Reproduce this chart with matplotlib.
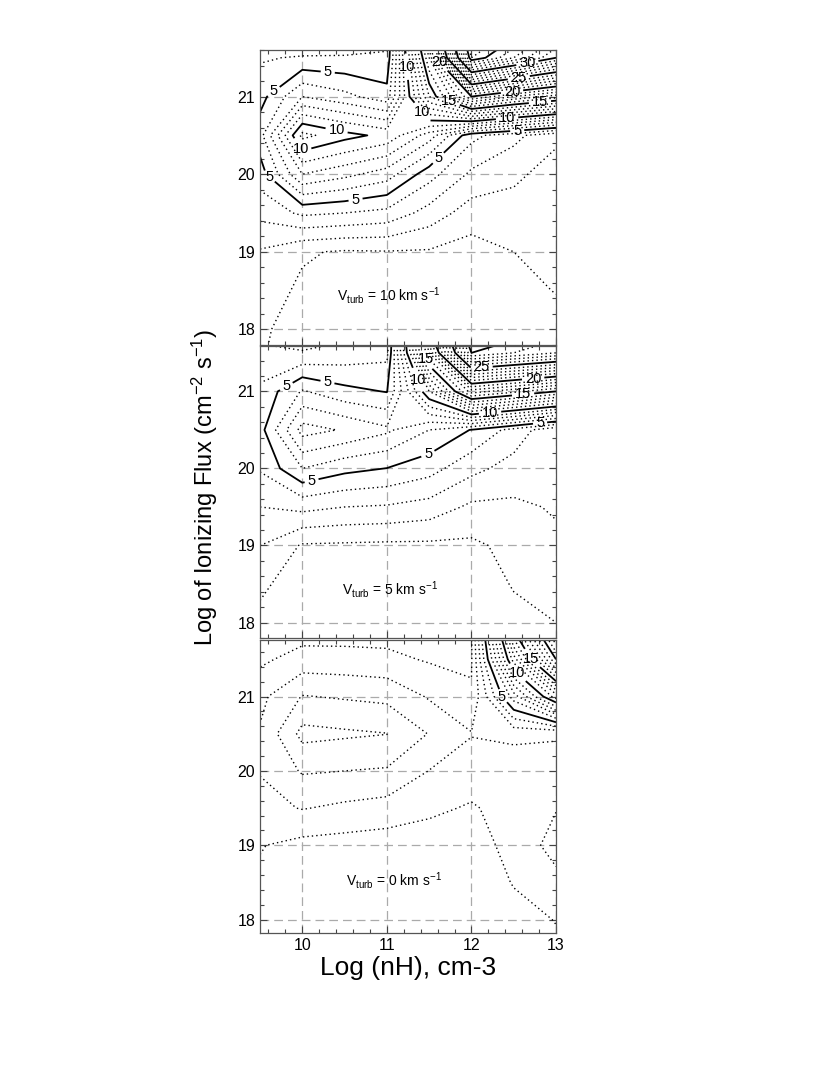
import matplotlib
matplotlib.use("Agg")
import matplotlib.pyplot as plt
import numpy as np
from matplotlib.ticker import MultipleLocator

plt.rcParams['font.family'] = ['Liberation Sans', 'DejaVu Sans']
plt.rcParams['mathtext.default'] = 'regular'

# grid of the model runs
lognh = [9.5, 10.0, 10.5, 11.0, 11.5, 12.0, 12.5, 13.0]
logflux = [17.5, 18.0, 18.5, 19.0, 19.5, 20.0, 20.5, 21.0, 21.5, 22.0]

# contour values, one row per log flux, one column per log nH
vturb10 = [
    [1.05, 0.4, 0.35, 0.35, 0.35, 0.35, 0.3, 0.4],
    [1.15, 0.6, 0.5, 0.5, 0.5, 0.5, 0.5, 0.7],
    [1.4, 0.85, 0.7, 0.7, 0.7, 0.65, 0.75, 1.03],
    [1.9, 1.1, 0.9, 0.95, 0.9, 0.6, 1.0, 1.2],
    [3.3, 4.2, 4.0, 3.7, 2.6, 1.5, 1.6, 1.4],
    [4.5, 8.0, 7.3, 6.5, 4.4, 2.8, 2.2, 1.6],
    [5.6, 11.3, 10.35, 9.7, 7.5, 4.3, 3.3, 2.2],
    [4.6, 7.0, 6.3, 5.4, 14.0, 20.0, 18.0, 16.5],
    [3.9, 4.1, 4.1, 4.2, 17.0, 36.0, 33.0, 30.0],
    [2.5, 2.0, 2.5, 3.0, 22.0, 40.0, 37.0, 34.0],
]
vturb5 = [
    [0.6, 0.35, 0.3, 0.3, 0.3, 0.3, 0.5, 0.8],
    [0.8, 0.45, 0.4, 0.4, 0.4, 0.4, 0.8, 1.0],
    [1.15, 0.6, 0.55, 0.55, 0.55, 0.6, 1.05, 1.4],
    [2.0, 0.9, 0.85, 0.8, 0.8, 0.8, 1.3, 1.8],
    [3.0, 3.3, 3.0, 2.9, 2.6, 1.8, 1.8, 2.1],
    [4.1, 6.0, 5.3, 4.98, 4.4, 3.3, 2.6, 2.2],
    [4.6, 8.4, 7.9, 7.2, 6.0, 4.95, 3.6, 2.2],
    [4.2, 6.1, 5.3, 4.95, 11.0, 17.5, 16.3, 15.0],
    [3.3, 3.1, 3.4, 3.7, 17.0, 30.0, 29.0, 28.0],
    [2.0, 1.5, 2.0, 2.5, 22.0, 34.0, 32.0, 31.0],
]
vturb0 = [
    [0.5, 0.3, 0.2, 0.2, 0.2, 0.3, 0.5, 0.8],
    [0.6, 0.4, 0.25, 0.2, 0.2, 0.3, 0.7, 1.03],
    [0.85, 0.55, 0.35, 0.3, 0.3, 0.4, 1.05, 1.7],
    [1.05, 0.7, 0.6, 0.5, 0.5, 0.6, 1.3, 2.4],
    [1.7, 2.05, 1.8, 1.6, 1.2, 0.9, 1.4, 1.95],
    [2.05, 3.1, 3.0, 2.9, 1.98, 1.5, 1.3, 1.6],
    [2.1, 4.3, 4.15, 4.02, 2.95, 2.05, 2.3, 2.1],
    [1.75, 3.05, 2.9, 2.75, 1.9, 1.1, 6.5, 11.5],
    [0.8, 1.4, 1.35, 1.25, 0.9, 0.9, 11.5, 20.0],
    [0.2, 0.3, 0.35, 0.4, 0.3, 0.9, 16.0, 25.0],
]

panels = [vturb10, vturb5, vturb0]
vturb_labels = ["10", "5", "0"]

# where the contour labels sit (data coords)
label_spots = [
    [(9.67, 21.05), (10.3, 21.3), (10.41, 20.6), (10.0, 20.34), (9.57, 19.9),
     (10.63, 19.67), (11.57, 20.27), (11.2, 21.38), (11.34, 20.7), (11.75, 21.0),
     (11.6, 21.42), (12.66, 21.44), (12.56, 21.24), (12.48, 21.06),
     (12.81, 20.93), (12.42, 20.74), (12.54, 20.58)],
    [(9.85, 20.96), (10.29, 21.06), (10.11, 19.84), (11.49, 20.17), (11.33, 21.13),
     (11.45, 21.42), (12.12, 21.31), (12.73, 21.16), (12.61, 20.97),
     (12.22, 20.72), (12.81, 20.61)],
    [(12.65, 21.42), (12.53, 21.3), (12.3, 20.96)],
]

axes_rect = [[0.3129, 0.6806, 0.3562, 0.2731],
             [0.3129, 0.4093, 0.3562, 0.2704],
             [0.3129, 0.1361, 0.3562, 0.2713]]
ylims = [(17.8, 21.6), (17.8, 21.59), (17.82, 21.76)]
text_pos = [(11.02, 18.44), (11.04, 18.43), (11.08, 18.53)]

X, Y = np.meshgrid(lognh, logflux)

fig = plt.figure(figsize=(8.31, 10.8), dpi=100)

for i, z in enumerate(panels):
    ax = fig.add_axes(axes_rect[i])
    Z = np.array(z)
    top = int(np.ceil(Z.max()))
    dot_levels = [l for l in range(1, top + 1) if l % 5 != 0]
    solid_levels = [l for l in range(5, top + 1, 5)]

    cs1 = ax.contour(X, Y, Z, levels=dot_levels, colors='black', linewidths=1.0)
    cs1.set_linestyle((0, (1.0, 2.2)))
    cs2 = ax.contour(X, Y, Z, levels=solid_levels, colors='black', linewidths=1.3,
                     linestyles='solid')
    txts = ax.clabel(cs2, manual=label_spots[i], fmt='%d', fontsize=10.5,
                     inline=True, inline_spacing=3)
    for t in txts:
        t.set_rotation(0)

    ax.set_xlim(9.5, 13)
    ax.set_ylim(*ylims[i])
    ax.xaxis.set_major_locator(MultipleLocator(1))
    ax.xaxis.set_minor_locator(MultipleLocator(0.2))
    ax.yaxis.set_major_locator(MultipleLocator(1))
    ax.yaxis.set_minor_locator(MultipleLocator(0.2))
    ax.grid(True, which='major', color='#aaaaaa', linestyle=(0, (7, 4)), linewidth=0.9)
    ax.set_axisbelow(True)
    ax.tick_params(which='both', direction='in', top=True, right=True,
                   width=0.8, color='#444444', labelsize=11.5)
    ax.tick_params(which='major', length=5)
    ax.tick_params(which='minor', length=3)
    for sp in ax.spines.values():
        sp.set_linewidth(0.9)
        sp.set_color('#555555')
    if i < 2:
        ax.tick_params(labelbottom=False)
    else:
        ax.set_xticks([10, 11, 12, 13])
        ax.set_xlabel("Log (nH), cm-3", fontsize=19, labelpad=2)

    ax.text(text_pos[i][0], text_pos[i][1],
            r"V$_{turb}$ = " + vturb_labels[i] + r" km s$^{-1}$",
            ha='center', va='center', fontsize=10)

fig.text(0.247, 0.549, r"Log of Ionizing Flux (cm$^{-2}$ s$^{-1}$)",
         rotation=90, ha='center', va='center', fontsize=17)

fig.savefig("out.png", dpi=100)
